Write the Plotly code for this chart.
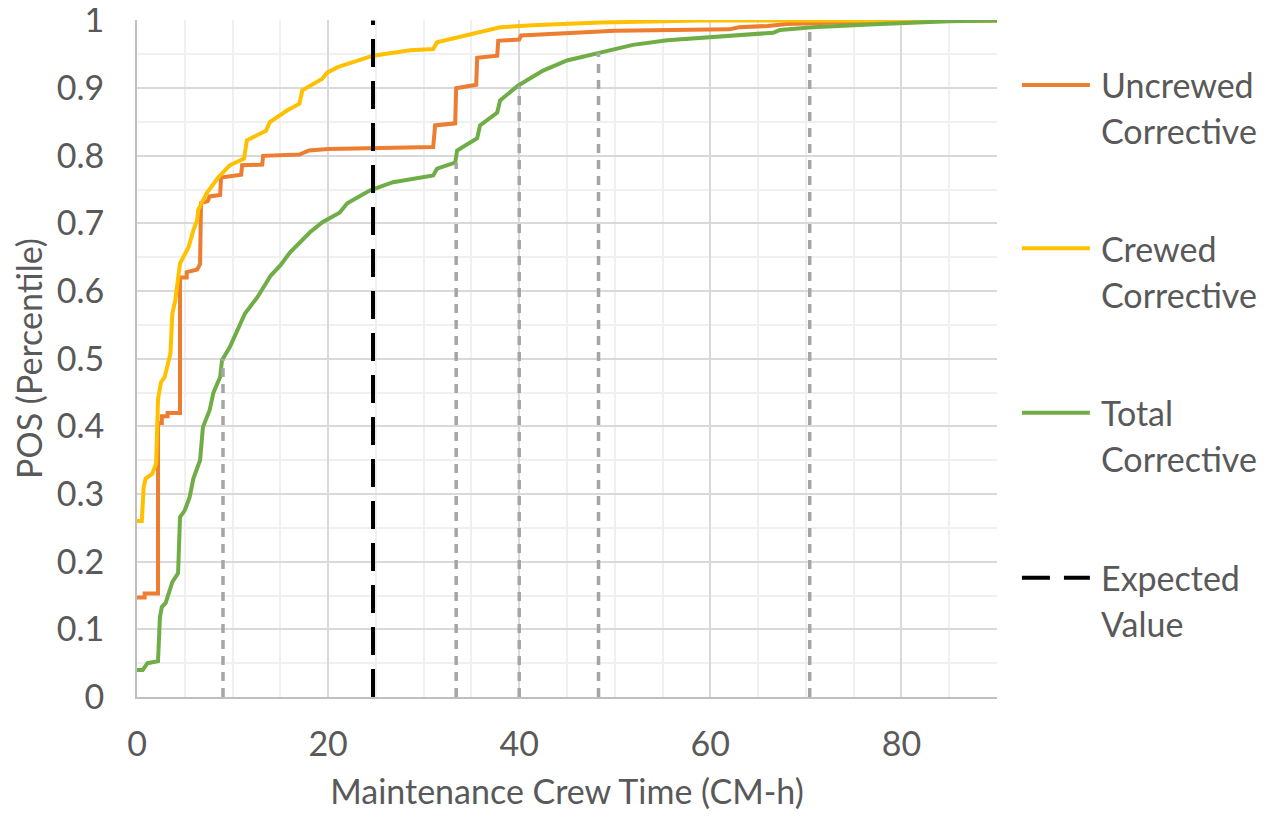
import plotly.graph_objects as go

# ---------------- data ----------------
unc_x = [0, 0.8, 0.8, 2.2, 2.2, 2.6, 2.6, 3.2, 3.2, 4.5, 4.5, 5.2, 5.2, 6.3, 6.6, 6.7, 7.4, 7.6, 8.7, 8.8,
         10.9, 11.0, 13.1, 13.2, 17.0, 18.0, 20.0, 31.0, 31.2, 33.3, 33.4, 35.5, 35.6, 37.7, 37.8, 40.0, 40.2,
         46.0, 50.0, 62.0, 63.0, 66.0, 68.0, 75.0, 80.0, 90.0]
unc_y = [0.147, 0.147, 0.153, 0.153, 0.405, 0.405, 0.415, 0.415, 0.42, 0.42, 0.62, 0.62, 0.628, 0.632, 0.64, 0.73,
         0.733, 0.74, 0.742, 0.768, 0.772, 0.786, 0.787, 0.80, 0.802, 0.808, 0.81, 0.813, 0.845, 0.848, 0.90, 0.905,
         0.945, 0.948, 0.97, 0.972, 0.978, 0.983, 0.985, 0.987, 0.99, 0.992, 0.995, 0.998, 1.0, 1.0]

crw_x = [0, 0.5, 0.7, 0.9, 1.6, 2.0, 2.2, 2.5, 2.9, 3.2, 3.5, 3.7, 4.0, 4.5, 5.0, 5.4, 5.9, 6.3, 6.4, 7.3, 8.5,
         9.7, 11.2, 11.5, 12.5, 13.5, 13.9, 15.0, 15.7, 17.0, 17.3, 19.4, 19.9, 21.0, 23.0, 24.7, 28.6, 31.0,
         31.4, 33.5, 35.2, 38.0, 41.4, 48.5, 59.0, 90.0]
crw_y = [0.26, 0.26, 0.31, 0.323, 0.33, 0.345, 0.44, 0.465, 0.473, 0.49, 0.508, 0.567, 0.586, 0.641, 0.655, 0.665,
         0.69, 0.705, 0.72, 0.745, 0.768, 0.786, 0.796, 0.823, 0.83, 0.837, 0.85, 0.86, 0.867, 0.877, 0.897, 0.914,
         0.923, 0.931, 0.941, 0.948, 0.956, 0.958, 0.968, 0.975, 0.982, 0.99, 0.993, 0.997, 1.0, 1.0]

tot_x = [0, 0.6, 1.1, 2.2, 2.4, 2.6, 3.0, 3.4, 3.7, 4.3, 4.5, 5.0, 5.5, 5.9, 6.4, 6.6, 6.9, 7.6, 8.0, 8.7, 8.9,
         9.7, 10.5, 11.3, 12.6, 13.6, 14.0, 15.0, 16.0, 18.1, 19.4, 21.2, 22.0, 24.4, 26.8, 31.0, 31.4, 33.3,
         33.5, 35.6, 35.9, 37.7, 38.0, 39.9, 42.5, 45.0, 48.5, 51.9, 55.5, 58.9, 62.0, 64.4, 66.6, 67.3, 70.7,
         77.8, 85.0, 90.0]
tot_y = [0.04, 0.04, 0.05, 0.053, 0.118, 0.133, 0.139, 0.158, 0.17, 0.183, 0.266, 0.276, 0.295, 0.323, 0.34, 0.35,
         0.399, 0.424, 0.45, 0.473, 0.498, 0.517, 0.542, 0.567, 0.591, 0.613, 0.623, 0.638, 0.657, 0.687, 0.702,
         0.716, 0.73, 0.749, 0.761, 0.771, 0.781, 0.79, 0.808, 0.826, 0.845, 0.864, 0.882, 0.904, 0.926, 0.941,
         0.953, 0.964, 0.971, 0.974, 0.977, 0.98, 0.982, 0.986, 0.99, 0.995, 0.999, 1.0]

pct_x = [9.0, 33.4, 40.0, 48.3, 70.4]
pct_y = [0.5, 0.79, 0.904, 0.953, 0.986]

ev_x = 24.7

x_ticks = [0, 20, 40, 60, 80]
y_ticks = [0, 0.1, 0.2, 0.3, 0.4, 0.5, 0.6, 0.7, 0.8, 0.9, 1]
y_tick_labels = ["0", "0.1", "0.2", "0.3", "0.4", "0.5", "0.6", "0.7", "0.8", "0.9", "1"]

legend_names = [["Uncrewed", "Corrective"], ["Crewed", "Corrective"],
                ["Total", "Corrective"], ["Expected", "Value"]]

# ---------------- styles ----------------
C_UNC = "#ED7D31"
C_CRW = "#FFC000"
C_TOT = "#70AD47"
C_PCT = "#A5A5A5"
TXT = "#595959"
FONT = "Lato"
FS = 34
LW = 4

fig = go.Figure()

fig.add_trace(go.Scatter(x=unc_x, y=unc_y, mode="lines", line=dict(color=C_UNC, width=LW),
                         name="Uncrewed Corrective", showlegend=False))
fig.add_trace(go.Scatter(x=crw_x, y=crw_y, mode="lines", line=dict(color=C_CRW, width=LW),
                         name="Crewed Corrective", showlegend=False))
fig.add_trace(go.Scatter(x=tot_x, y=tot_y, mode="lines", line=dict(color=C_TOT, width=LW),
                         name="Total Corrective", showlegend=False))

# percentile drop lines
px_, py_ = [], []
for xv, yv in zip(pct_x, pct_y):
    px_ += [xv, xv, None]
    py_ += [0, yv, None]
fig.add_trace(go.Scatter(x=px_, y=py_, mode="lines", line=dict(color=C_PCT, width=3.5, dash="9px,7px"),
                         showlegend=False, hoverinfo="skip"))

fig.add_trace(go.Scatter(x=[ev_x, ev_x], y=[0, 1], mode="lines",
                         line=dict(color="black", width=LW, dash="28px,14px"),
                         name="Expected Value", showlegend=False))

# manual legend (decoration in paper coords)
leg_colors = [C_UNC, C_CRW, C_TOT, "black"]
leg_dash = ["solid", "solid", "solid", "28px,14px"]
leg_y = [0.904, 0.663, 0.420, 0.176]
line_gap = 46 / 677.0
for names, col, dsh, yy in zip(legend_names, leg_colors, leg_dash, leg_y):
    fig.add_shape(type="line", xref="paper", yref="paper", x0=1.029, x1=1.108, y0=yy, y1=yy,
                  line=dict(color=col, width=LW, dash=dsh))
    for i, t in enumerate(names):
        fig.add_annotation(text=t, xref="paper", yref="paper", x=1.119, y=yy - i * line_gap,
                           xanchor="left", yanchor="middle", showarrow=False,
                           font=dict(family=FONT, size=FS, color=TXT))

# page body has an 8px margin: size figure so it fits the 1267x817 window
fig.update_layout(
    width=1259, height=809,
    margin=dict(l=129, r=270, t=12, b=120, autoexpand=False),
    paper_bgcolor="white", plot_bgcolor="white",
    font=dict(family=FONT, size=FS, color=TXT),
    showlegend=False,
)
fig.update_xaxes(
    range=[0, 90], tickvals=x_ticks, automargin=False,
    showgrid=True, gridcolor="#D9D9D9", gridwidth=2,
    minor=dict(dtick=5, tick0=0, showgrid=True, gridcolor="#F0F0F0", gridwidth=2),
    showline=True, linecolor="#BFBFBF", linewidth=2, zeroline=False,
    ticks="outside", ticklen=16, tickcolor="rgba(0,0,0,0)",
    title=dict(text="Maintenance Crew Time (CM-h)", standoff=18, font=dict(family=FONT, size=FS, color=TXT)),
    tickfont=dict(family=FONT, size=FS, color=TXT),
)
fig.update_yaxes(
    range=[0, 1.0008], tickvals=y_ticks, ticktext=y_tick_labels, automargin=False,
    ticklabeloverflow="allow",
    showgrid=True, gridcolor="#D9D9D9", gridwidth=2,
    minor=dict(dtick=0.05, tick0=0, showgrid=True, gridcolor="#F0F0F0", gridwidth=2),
    showline=True, linecolor="#BFBFBF", linewidth=2, zeroline=False,
    ticks="outside", ticklen=24, tickcolor="rgba(0,0,0,0)",
    title=dict(text="POS (Percentile)", standoff=10, font=dict(family=FONT, size=FS, color=TXT)),
    tickfont=dict(family=FONT, size=FS, color=TXT),
)

fig.write_html("out.html")
